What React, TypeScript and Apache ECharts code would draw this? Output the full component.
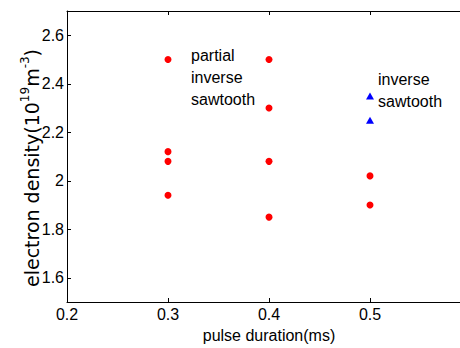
import React, { useEffect, useRef } from "react";
import * as echarts from "echarts";

const partialX = [0.3, 0.3, 0.3, 0.3, 0.4, 0.4, 0.4, 0.4, 0.5, 0.5];
const partialY = [2.5, 2.12, 2.08, 1.94, 2.5, 2.3, 2.08, 1.85, 2.02, 1.9];
const inverseX = [0.5, 0.5];
const inverseY = [2.35, 2.25];
const xTicks = [0.2, 0.3, 0.4, 0.5];
const yTicks = [1.6, 1.8, 2.0, 2.2, 2.4, 2.6];

const FONT = "'Liberation Sans', Arial, sans-serif";

export default function App() {
  const ref = useRef<HTMLDivElement>(null);
  useEffect(() => {
    if (!ref.current) return;
    const chart = echarts.init(ref.current, null, { renderer: "svg" });
    const axisLine = { show: true, lineStyle: { color: "#000", width: 1 } };
    chart.setOption({
      animation: false,
      backgroundColor: "#fff",
      grid: { left: 67, top: 11, bottom: 44, right: 9 },
      xAxis: [
        {
          type: "value",
          min: 0.2,
          max: 0.6,
          interval: 0.1,
          position: "bottom",
          axisLine,
          axisTick: { show: true, inside: true, length: 4, customValues: xTicks, lineStyle: { color: "#000" } },
          axisLabel: { show: true, customValues: xTicks, color: "#000", fontSize: 16, fontFamily: FONT, margin: 4 },
          splitLine: { show: false },
          name: "pulse duration(ms)",
          nameLocation: "middle",
          nameGap: 25,
          nameTextStyle: { color: "#000", fontSize: 16, fontFamily: FONT },
        },
        {
          type: "value",
          min: 0.2,
          max: 0.6,
          interval: 0.1,
          position: "top",
          axisLine,
          axisTick: { show: true, inside: true, length: 4, customValues: xTicks, lineStyle: { color: "#000" } },
          axisLabel: { show: false },
          splitLine: { show: false },
        },
      ],
      yAxis: [
        {
          type: "value",
          min: 1.5,
          max: 2.7,
          position: "left",
          axisLine,
          axisTick: { show: true, inside: true, length: 4, customValues: yTicks, lineStyle: { color: "#000" } },
          axisLabel: {
            show: true,
            customValues: yTicks,
            color: "#000",
            fontSize: 16,
            fontFamily: FONT,
            margin: 3,
            formatter: (v: number) => String(Math.round(v * 10) / 10),
          },
          splitLine: { show: false },
        },
      ],
      graphic: [
        {
          type: "text",
          x: 30,
          y: 168,
          rotation: Math.PI / 2,
          style: {
            text: "{a|electron density(10}{s|19}{a|m}{s|-3}{a|)}",
            align: "center",
            verticalAlign: "middle",
            fill: "#000",
            rich: {
              a: { fontSize: 19, fontFamily: "'DejaVu Sans', sans-serif", fill: "#000", lineHeight: 22, verticalAlign: "bottom" },
              s: { fontSize: 12, fontFamily: "'DejaVu Sans', sans-serif", fill: "#000", lineHeight: 22, verticalAlign: "top" },
            },
          },
        },
        {
          type: "text",
          x: 191,
          y: 45,
          style: {
            text: "partial\ninverse\nsawtooth",
            fontSize: 16,
            fontFamily: FONT,
            lineHeight: 21.7,
            fill: "#000",
            align: "left",
            verticalAlign: "top",
          },
        },
        {
          type: "text",
          x: 378,
          y: 68.5,
          style: {
            text: "inverse\nsawtooth",
            fontSize: 16,
            fontFamily: FONT,
            lineHeight: 22,
            fill: "#000",
            align: "left",
            verticalAlign: "top",
          },
        },
      ],
      series: [
        {
          type: "scatter",
          xAxisIndex: 0,
          yAxisIndex: 0,
          symbol: "circle",
          symbolSize: 7,
          itemStyle: { color: "#ff0000", opacity: 1 },
          data: partialX.map((x, i) => [x, partialY[i]]),
        },
        {
          type: "scatter",
          xAxisIndex: 0,
          yAxisIndex: 0,
          symbol: "triangle",
          symbolSize: [8, 7],
          itemStyle: { color: "#0000ff", opacity: 1 },
          data: inverseX.map((x, i) => [x, inverseY[i]]),
        },
      ],
    });
    return () => chart.dispose();
  }, []);
  return (
    <div style={{ position: "fixed", left: 0, top: 0, width: 460, height: 348, overflow: "hidden", background: "#fff" }}>
      <div ref={ref} style={{ width: 480, height: 348 }} />
    </div>
  );
}
